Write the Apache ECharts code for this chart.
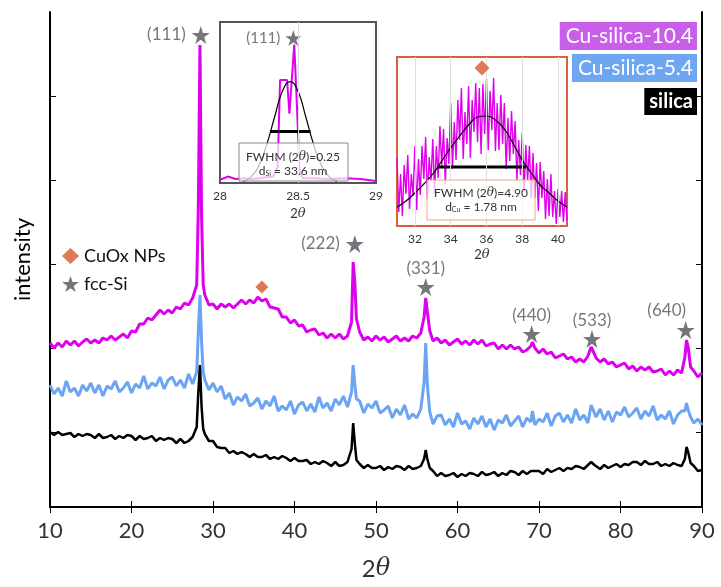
<!DOCTYPE html>
<html>
<head>
<meta charset="utf-8">
<script src="https://cdn.jsdelivr.net/npm/echarts@6/dist/echarts.min.js"></script>
<style>
  html, body { margin: 0; padding: 0; background: #fff; }
  #chart { width: 721px; height: 587px; }
</style>
</head>
<body>
<div id="chart"></div>
<script>
// 2theta grid shared by the three patterns (extra points around the Si peaks)
const twoTheta = [
  10,10.5,11,11.5,12,12.5,13,13.5,14,14.5,
  15,15.5,16,16.5,17,17.5,18,18.5,19,19.5,
  20,20.5,21,21.5,22,22.5,23,23.5,24,24.5,
  25,25.5,26,26.5,27,27.5,28,28.2,28.4,28.6,28.8,
  29,29.5,30,30.5,31,31.5,32,32.5,33,33.5,
  34,34.5,35,35.5,36,36.5,37,37.5,38,38.5,
  39,39.5,40,40.5,41,41.5,42,42.5,43,43.5,
  44,44.5,45,45.5,46,46.5,47,47.2,47.4,47.6,
  48,48.5,49,49.5,50,50.5,51,51.5,52,52.5,
  53,53.5,54,54.5,55,55.5,55.9,56.1,56.3,56.6,
  57,57.5,58,58.5,59,59.5,60,60.5,61,61.5,
  62,62.5,63,63.5,64,64.5,65,65.5,66,66.5,
  67,67.5,68,68.5,69,69.2,69.5,70,70.5,71,71.5,
  72,72.5,73,73.5,74,74.5,75,75.5,76,76.4,76.8,
  77,77.5,78,78.5,79,79.5,80,80.5,81,81.5,
  82,82.5,83,83.5,84,84.5,85,85.5,86,86.5,
  87,87.5,87.9,88.1,88.3,88.6,89,89.5,90
];

// intensities (a.u., offset for display)
const cuSilica104 = [
  164,159,164,160,166,162,166,161,165,168,
  164,167,164,169,167,171,167,170,173,169,
  176,175,183,183,189,187,192,197,193,197,
  194,200,198,204,202,209,222,300,462,290,222,
  212,202,203,198,203,200,203,199,203,207,
  203,207,204,210,206,208,200,199,198,190,
  190,184,187,181,182,175,177,178,172,174,
  169,173,169,173,168,171,185,245,225,188,
  175,167,170,166,171,167,170,165,168,171,
  166,169,166,171,169,174,190,209,195,176,
  166,169,164,167,162,165,168,163,166,162,
  167,163,167,161,163,164,158,162,158,162,
  158,160,155,157,161,165,159,154,158,153,155,
  149,151,153,148,150,145,148,145,151,160,153,
  149,145,148,143,145,140,142,144,138,141,
  136,140,137,140,135,136,138,132,136,132,
  137,134,150,167,160,140,136,130,134
];
const cuSilica54 = [
  122,113,119,111,126,115,119,111,122,116,
  124,114,122,111,121,118,126,115,119,125,
  114,123,119,131,118,124,121,130,118,127,
  130,121,127,119,133,123,135,175,212,165,135,
  127,117,124,115,121,108,114,102,110,106,
  113,101,104,109,98,106,101,111,96,101,
  97,106,93,102,105,96,103,95,110,99,
  104,96,108,102,111,100,115,142,122,108,
  106,94,103,99,106,94,97,101,89,98,
  92,102,88,93,89,98,125,164,122,95,
  83,91,92,82,88,80,94,83,86,78,
  89,83,91,80,88,77,87,84,92,81,
  86,91,80,89,85,96,82,88,85,94,81,
  91,94,85,92,84,98,87,92,84,102,94,
  90,98,87,96,85,95,92,100,90,94,
  99,88,96,91,101,87,92,88,96,83,
  92,96,96,104,97,90,84,88,82
];
const silica = [
  75,72,75,72,73,74,70,73,71,73,
  72,69,73,69,70,72,68,71,69,72,
  71,67,71,68,69,71,66,69,67,69,
  68,64,68,64,66,70,80,115,142,100,78,
  73,66,66,60,59,59,54,56,53,55,
  53,50,53,50,50,52,48,50,48,51,
  49,46,49,46,46,47,43,45,43,46,
  44,41,45,41,42,45,58,84,64,47,
  43,39,42,39,39,41,37,40,38,41,
  40,37,41,38,39,41,48,57,48,39,
  36,31,34,31,32,34,30,33,31,34,
  33,31,35,32,33,35,31,34,32,36,
  35,32,36,33,36,38,36,36,33,38,35,
  37,39,36,39,38,41,40,38,42,45,42,
  41,38,42,39,41,43,40,43,42,45,
  45,42,46,43,43,45,41,43,41,44,
  42,41,48,60,55,44,41,36,37
];

// peak markers on the main plot
const siPeakAngle = [28.5, 47.4, 56.1, 69.1, 76.5, 88.0];
const siPeakLevel = [472, 263, 220, 173, 168, 177];
const siPeakHkl = ['(111)', '(222)', '(331)', '(440)', '(533)', '(640)'];
const cuoxPeakAngle = [36.0];
const cuoxPeakLevel = [220];
const yTicks = [75, 159, 243, 327, 411];

// inset: Si (111) peak
const siInsetAngle = [28.0,28.05,28.1,28.15,28.2,28.25,28.3,28.34,28.37,28.385,28.43,28.445,28.476,28.49,28.51,28.53,28.6,28.7,28.8,28.9,29.0];
const siInsetInt = [0.02,0.04,0.025,0.03,0.025,0.03,0.035,0.04,0.1,0.64,0.64,0.43,0.86,0.55,0.08,0.03,0.03,0.025,0.03,0.025,0.012];
const siFitAngle = [28.15,28.2,28.25,28.3,28.35,28.4,28.45,28.5,28.55,28.6,28.65,28.7,28.75];
const siFitInt = [0.01,0.04,0.11,0.24,0.41,0.57,0.63,0.57,0.41,0.24,0.11,0.04,0.01];
const siFwhmAngle = [28.32, 28.58];
const siFwhmLevel = [0.32, 0.32];
const siInsetGrid = [28.5];

// inset: CuOx broad peak
const cuInsetAngle = [
  31,31.1,31.2,31.3,31.4,31.5,31.6,31.7,31.8,31.9,
  32,32.1,32.2,32.3,32.4,32.5,32.6,32.7,32.8,32.9,
  33,33.1,33.2,33.3,33.4,33.5,33.6,33.7,33.8,33.9,
  34,34.1,34.2,34.3,34.4,34.5,34.6,34.7,34.8,34.9,
  35,35.1,35.2,35.3,35.4,35.5,35.6,35.7,35.8,35.9,
  36,36.1,36.2,36.3,36.4,36.5,36.6,36.7,36.8,36.9,
  37,37.1,37.2,37.3,37.4,37.5,37.6,37.7,37.8,37.9,
  38,38.1,38.2,38.3,38.4,38.5,38.6,38.7,38.8,38.9,
  39,39.1,39.2,39.3,39.4,39.5,39.6,39.7,39.8,39.9,
  40,40.1,40.2,40.3,40.4,40.5
];
const cuInsetInt = [
  68,14,52,10,61,32,71,17,52,30,
  80,16,67,31,80,47,89,27,69,45,
  87,32,80,48,100,60,97,42,88,62,
  123,57,104,66,126,86,138,67,114,82,
  140,68,126,94,143,84,138,72,142,92,
  147,76,135,96,148,75,123,76,131,82,
  123,57,108,65,115,72,105,46,86,51,
  93,34,81,46,80,28,73,28,63,15,
  64,28,55,7,47,10,52,9,35,2,
  37,9,35,4,34,5
];
const cuFitAngle = [31,31.5,32,32.5,33,33.5,34,34.5,35,35.5,36,36.5,37,37.5,38,38.5,39,39.5,40,40.5];
const cuFitInt = [19,25,33,42,52,65,78,90,101,109,110,106,97,82,66,53,41,33,25,19];
const cuFwhmAngle = [33.3, 38.2];
const cuFwhmLevel = [59, 59];
const cuInsetGrid = [32, 34, 36, 38, 40];
const cuInsetTicks = [32, 34, 36, 38, 40];

const pairs = (xs, ys) => xs.map((x, i) => [x, ys[i]]);
const starPath = 'path://M50,2 L61.8,37.6 L99,37.6 L68.6,59.6 L80.2,95 L50,73.2 L19.8,95 L31.4,59.6 L1,37.6 L38.2,37.6 Z';
const markGray = '#52525c';
const thetaRich = (size) => ({
  a: { fontSize: size, color: '#333', fontFamily: 'Lato' },
  b: { fontSize: size, color: '#333', fontFamily: 'DejaVu Serif', fontStyle: 'italic' }
});

const chart = echarts.init(document.getElementById('chart'));

const option = {
  animation: false,
  textStyle: { fontFamily: 'Lato' },
  grid: [
    { left: 50, right: 19, top: 12, bottom: 80 },
    { left: 220, top: 22, width: 156, height: 161, show: true, backgroundColor: '#fff', borderColor: '#555', borderWidth: 2 },
    { left: 397, top: 57, width: 170, height: 169, show: true, backgroundColor: '#fff', borderColor: '#d9603b', borderWidth: 2 }
  ],
  legend: {
    data: ['CuOx NPs', 'fcc-Si'],
    orient: 'vertical',
    left: 57,
    top: 242,
    itemGap: 10,
    itemWidth: 17,
    itemHeight: 16,
    textStyle: { fontSize: 18, color: '#111', fontFamily: 'Lato' }
  },
  xAxis: [
    {
      gridIndex: 0, type: 'value', min: 10, max: 90, interval: 10,
      axisLine: { lineStyle: { color: '#000', width: 2 } },
      axisTick: { inside: true, length: 6, lineStyle: { color: '#000' } },
      axisLabel: { fontSize: 22, color: '#333', margin: 13 },
      splitLine: { show: false },
      name: '{a|2}{b|θ}', nameLocation: 'middle', nameGap: 50,
      nameTextStyle: { rich: thetaRich(24) }
    },
    {
      gridIndex: 0, type: 'value', position: 'top', min: 10, max: 90, interval: 10,
      axisLine: { lineStyle: { color: '#000', width: 2 } },
      axisTick: { inside: true, length: 6, lineStyle: { color: '#000' } },
      axisLabel: { show: false },
      splitLine: { show: false }
    },
    {
      gridIndex: 1, type: 'value', min: 28, max: 29, interval: 0.5,
      axisLine: { show: false }, axisTick: { show: false },
      axisLabel: { fontSize: 12, color: '#333', margin: 7 },
      splitLine: { show: false },
      name: '{a|2}{b|θ}', nameLocation: 'middle', nameGap: 24,
      nameTextStyle: { rich: thetaRich(13) }
    },
    {
      gridIndex: 2, type: 'value', min: 31, max: 40.5,
      axisLine: { show: false }, axisTick: { show: false },
      axisLabel: { fontSize: 12, color: '#333', margin: 7, customValues: cuInsetTicks },
      splitLine: { show: false },
      name: '{a|2}{b|θ}', nameLocation: 'middle', nameGap: 22,
      nameTextStyle: { rich: thetaRich(13) }
    }
  ],
  yAxis: [
    {
      gridIndex: 0, type: 'value', min: 0, max: 495,
      axisLine: { show: true, lineStyle: { color: '#000', width: 2 } },
      axisTick: { show: true, inside: true, length: 6, customValues: yTicks, lineStyle: { color: '#000' } },
      axisLabel: { show: false },
      splitLine: { show: false },
      name: 'intensity', nameLocation: 'middle', nameGap: 16,
      nameTextStyle: { fontSize: 22, color: '#000' }
    },
    {
      gridIndex: 0, type: 'value', position: 'right', min: 0, max: 495,
      axisLine: { show: true, lineStyle: { color: '#000', width: 2 } },
      axisTick: { show: true, inside: true, length: 6, customValues: yTicks, lineStyle: { color: '#000' } },
      axisLabel: { show: false },
      splitLine: { show: false }
    },
    { gridIndex: 1, type: 'value', min: 0, max: 1, show: false },
    { gridIndex: 2, type: 'value', min: 0, max: 169, show: false }
  ],
  series: [
    // main patterns
    {
      name: 'Cu-silica-5.4', type: 'line', xAxisIndex: 0, yAxisIndex: 0,
      data: pairs(twoTheta, cuSilica54), symbol: 'none',
      lineStyle: { color: '#6aa4f2', width: 3 }
    },
    {
      name: 'silica', type: 'line', xAxisIndex: 0, yAxisIndex: 0,
      data: pairs(twoTheta, silica), symbol: 'none',
      lineStyle: { color: '#000', width: 2.5 }
    },
    {
      name: 'Cu-silica-10.4', type: 'line', xAxisIndex: 0, yAxisIndex: 0,
      data: pairs(twoTheta, cuSilica104), symbol: 'none',
      lineStyle: { color: '#dd00ee', width: 3 }
    },
    {
      name: 'CuOx NPs', type: 'scatter', xAxisIndex: 0, yAxisIndex: 0,
      data: pairs(cuoxPeakAngle, cuoxPeakLevel),
      symbol: 'diamond', symbolSize: 13,
      itemStyle: { color: '#d35a2c' }
    },
    {
      name: 'fcc-Si', type: 'scatter', xAxisIndex: 0, yAxisIndex: 0,
      data: pairs(siPeakAngle, siPeakLevel),
      symbol: starPath, symbolSize: 18,
      itemStyle: { color: markGray },
      label: {
        show: true, fontSize: 17, color: markGray,
        formatter: (p) => siPeakHkl[p.dataIndex]
      },
      labelLayout: (p) => {
        if (p.dataIndex < 2) return { x: p.rect.x - 6, y: p.rect.y + p.rect.height / 2, align: 'right', verticalAlign: 'middle' };
        if (p.dataIndex === 5) return { x: p.rect.x - 10, y: p.rect.y - 2, align: 'center', verticalAlign: 'bottom' };
        return { x: p.rect.x + p.rect.width / 2, y: p.rect.y - 1, align: 'center', verticalAlign: 'bottom' };
      }
    },

    // inset: Si (111)
    {
      name: 'si grid', type: 'line', xAxisIndex: 2, yAxisIndex: 2, data: [], z: 1,
      markLine: {
        silent: true, symbol: 'none', label: { show: false },
        lineStyle: { color: '#ddd', width: 1, type: 'solid' },
        data: siInsetGrid.map(v => ({ xAxis: v }))
      }
    },
    {
      name: 'si inset', type: 'line', xAxisIndex: 2, yAxisIndex: 2,
      data: pairs(siInsetAngle, siInsetInt), symbol: 'none',
      lineStyle: { color: '#e000ee', width: 2 }
    },
    {
      name: 'si fit', type: 'line', xAxisIndex: 2, yAxisIndex: 2, smooth: true,
      data: pairs(siFitAngle, siFitInt), symbol: 'none',
      lineStyle: { color: '#000', width: 1.2 }
    },
    {
      name: 'si fwhm', type: 'line', xAxisIndex: 2, yAxisIndex: 2,
      data: pairs(siFwhmAngle, siFwhmLevel), symbol: 'none',
      lineStyle: { color: '#000', width: 3 }
    },
    {
      name: 'si inset mark', type: 'scatter', xAxisIndex: 2, yAxisIndex: 2,
      data: [[28.47, 0.9]], symbol: starPath, symbolSize: 16,
      itemStyle: { color: markGray },
      label: { show: true, position: 'left', distance: 5, formatter: '(111)', fontSize: 15, color: markGray }
    },

    // inset: CuOx
    {
      name: 'cu grid', type: 'line', xAxisIndex: 3, yAxisIndex: 3, data: [], z: 1,
      markLine: {
        silent: true, symbol: 'none', label: { show: false },
        lineStyle: { color: '#ddd', width: 1, type: 'solid' },
        data: cuInsetGrid.map(v => ({ xAxis: v }))
      }
    },
    {
      name: 'cu inset', type: 'line', xAxisIndex: 3, yAxisIndex: 3,
      data: pairs(cuInsetAngle, cuInsetInt), symbol: 'none',
      lineStyle: { color: '#e000ee', width: 1.4 }
    },
    {
      name: 'cu fit', type: 'line', xAxisIndex: 3, yAxisIndex: 3, smooth: true,
      data: pairs(cuFitAngle, cuFitInt), symbol: 'none',
      lineStyle: { color: '#000', width: 1.2 }
    },
    {
      name: 'cu fwhm', type: 'line', xAxisIndex: 3, yAxisIndex: 3,
      data: pairs(cuFwhmAngle, cuFwhmLevel), symbol: 'none',
      lineStyle: { color: '#000', width: 3 }
    },
    {
      name: 'cu inset mark', type: 'scatter', xAxisIndex: 3, yAxisIndex: 3,
      data: [[35.75, 158]], symbol: 'diamond', symbolSize: 15, z: 5,
      itemStyle: { color: '#d9582a' }
    }
  ],
  graphic: [
    // FWHM boxes
    { type: 'rect', z: 100, shape: { x: 239, y: 143, width: 109, height: 38 },
      style: { fill: 'rgba(255,255,255,0.72)', stroke: '#888', lineWidth: 1 } },
    { type: 'text', z: 101, x: 293, y: 157,
      style: { text: '{a|FWHM (2}{b|θ}{a|)=0.25}', align: 'center', verticalAlign: 'middle',
        rich: { a: { fontSize: 12, fill: '#333', fontFamily: 'Lato' }, b: { fontSize: 12, fill: '#333', fontStyle: 'italic', fontFamily: 'DejaVu Serif' } } } },
    { type: 'text', z: 101, x: 293, y: 171,
      style: { text: '{a|d}{s|Si}{a| = 33.6 nm}', align: 'center', verticalAlign: 'middle',
        rich: { a: { fontSize: 12, fill: '#333', fontFamily: 'Lato' }, s: { fontSize: 7, fill: '#333', fontFamily: 'Lato', padding: [5, 0, 0, 0] } } } },
    { type: 'rect', z: 100, shape: { x: 427, y: 180, width: 108, height: 40 },
      style: { fill: 'rgba(255,255,255,0.72)', stroke: '#e8a58f', lineWidth: 1 } },
    { type: 'text', z: 101, x: 481, y: 193,
      style: { text: '{a|FWHM (2}{b|θ}{a|)=4.90}', align: 'center', verticalAlign: 'middle',
        rich: { a: { fontSize: 12, fill: '#333', fontFamily: 'Lato' }, b: { fontSize: 12, fill: '#333', fontStyle: 'italic', fontFamily: 'DejaVu Serif' } } } },
    { type: 'text', z: 101, x: 481, y: 207,
      style: { text: '{a|d}{s|Cu}{a| = 1.78 nm}', align: 'center', verticalAlign: 'middle',
        rich: { a: { fontSize: 12, fill: '#333', fontFamily: 'Lato' }, s: { fontSize: 7, fill: '#333', fontFamily: 'Lato', padding: [5, 0, 0, 0] } } } },

    // sample labels
    { type: 'text', z: 100, right: 24, top: 22,
      style: { text: 'Cu-silica-10.4', fill: '#fff', font: '21px Lato', backgroundColor: '#c95ee8', padding: [4, 4, 3, 6] } },
    { type: 'text', z: 100, right: 24, top: 54,
      style: { text: 'Cu-silica-5.4', fill: '#fff', font: '21px Lato', backgroundColor: '#6ea6f2', padding: [4, 4, 3, 6] } },
    { type: 'text', z: 100, right: 24, top: 88,
      style: { text: 'silica', fill: '#fff', font: 'bold 20px Lato', backgroundColor: '#000', padding: [4, 4, 3, 5] } }
  ]
};

chart.setOption(option);
</script>
</body>
</html>
